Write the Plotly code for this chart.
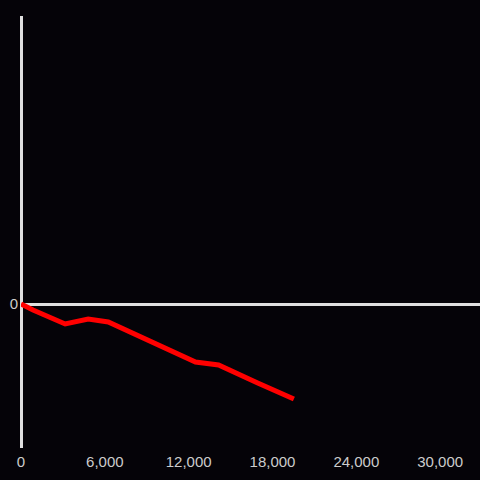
import plotly.graph_objects as go

x_vals = [0, 860, 3160, 4810, 6245, 7610, 8760, 10190, 12490, 14140, 15500, 16940, 19530]
y_vals = [0, -6, -20, -15, -18, -27, -34, -43, -58, -61, -70, -79, -95]
x_ticks = [0, 6000, 12000, 18000, 24000, 30000]
x_tick_text = ["0", "6,000", "12,000", "18,000", "24,000", "30,000"]
y_ticks = [0]
y_tick_text = ["0"]

fig = go.Figure()
fig.add_trace(go.Scatter(x=x_vals, y=y_vals, mode="lines",
                         line=dict(color="#ff0000", width=5), showlegend=False,
                         cliponaxis=False))

fig.update_layout(
    width=480, height=480,
    paper_bgcolor="#050308", plot_bgcolor="#050308",
    margin=dict(l=21, r=0, t=16, b=32),
    font=dict(family="Liberation Sans, Arial, sans-serif", size=15, color="#cccccc"),
    xaxis=dict(range=[0, 32850], tickvals=x_ticks, ticktext=x_tick_text,
               showgrid=False, zeroline=True, zerolinecolor="#e0e0e0", zerolinewidth=3,
               showline=False, ticks="", ticklabelstandoff=3),
    yaxis=dict(range=[-144, 288], tickvals=y_ticks, ticktext=y_tick_text,
               showgrid=False, zeroline=True, zerolinecolor="#e0e0e0", zerolinewidth=3,
               showline=False, ticks="", ticklabelstandoff=2),
)
fig.write_html("out.html", config={"displayModeBar": False},
               post_script="document.body.style.margin='0';document.body.style.background='#050308';")
